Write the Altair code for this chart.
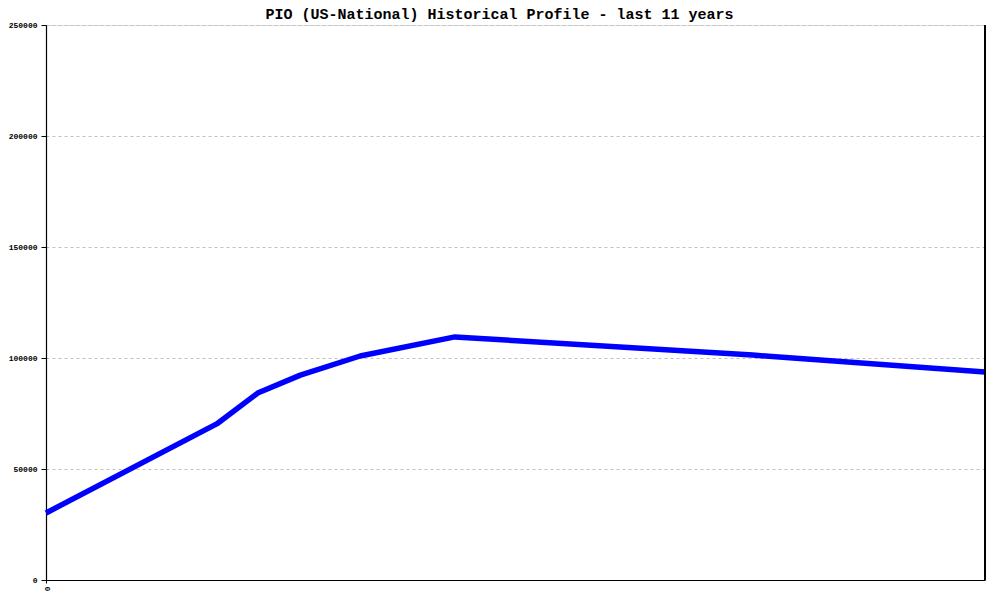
import altair as alt
import pandas as pd

# time position in years since start of the 11-year window
years = [0, 2.0, 2.48, 2.98, 3.68, 4.79, 8.28, 11.0]
values = [30200, 70300, 84200, 92300, 100900, 109500, 101300, 93700]

df = pd.DataFrame({"year": years, "value": values})

FONT = "Liberation Mono"

x_scale = alt.Scale(domain=[0, 11], nice=False, zero=False)
y_scale = alt.Scale(domain=[0, 250000], nice=False)

line = alt.Chart(df).mark_line(color="#0000ff", strokeWidth=5.5, strokeJoin="round").encode(
    x=alt.X("year:Q", scale=x_scale,
            axis=alt.Axis(values=[0], format="d", title=None, grid=False, labelAngle=90,
                          labelFont=FONT, labelFontSize=8, labelFontWeight="bold",
                          labelColor="black", domainColor="black", domainWidth=1.2,
                          tickColor="black", tickSize=3, labelPadding=3,
                          labelAlign="left", labelBaseline="middle")),
    y=alt.Y("value:Q", scale=y_scale,
            axis=alt.Axis(values=[0, 50000, 100000, 150000, 200000, 250000], title=None,
                          format="d", grid=True, gridColor="#c0c0c0", gridDash=[3, 3],
                          gridWidth=1, labelFont=FONT, labelFontSize=8,
                          labelFontWeight="bold", labelColor="black",
                          domainColor="black", domainWidth=1.2, tickColor="black",
                          tickSize=5, labelPadding=4)),
)

right_border = alt.Chart(df).mark_rule(color="black", strokeWidth=1.2).encode(
    x=alt.datum(11, scale=x_scale)
)

chart = alt.layer(line, right_border).properties(
    width=939,
    height=555,
    title=alt.TitleParams(
        "PIO (US-National) Historical Profile - last 11 years",
        font=FONT, fontSize=15, fontWeight="bold", color="black",
        anchor="middle", dx=-16, dy=5, offset=4,
    ),
    autosize="none",
    padding={"left": 38, "top": 17, "right": 5, "bottom": 20},
).configure_view(stroke=None).configure(background="white")

chart.save("out.html", embed_options={"renderer": "svg", "actions": False})
